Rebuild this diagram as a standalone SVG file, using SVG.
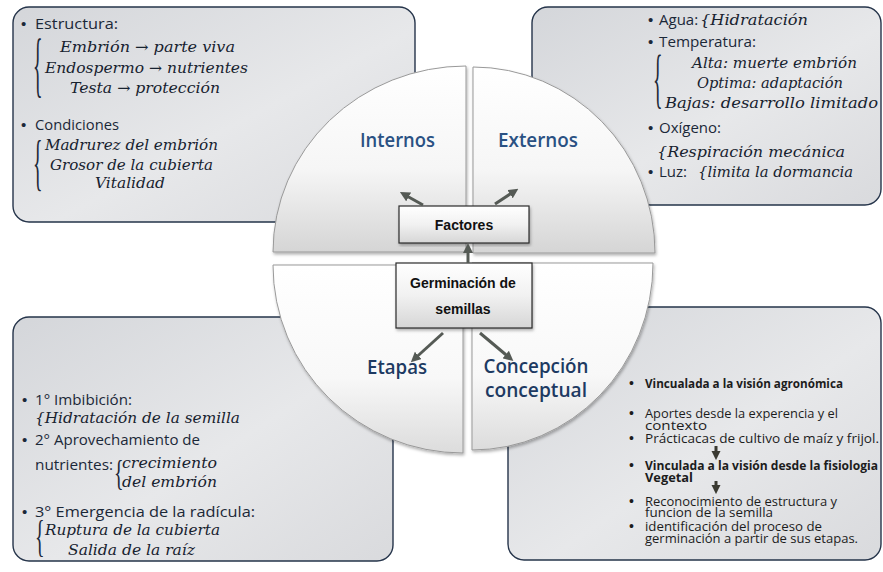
<svg xmlns="http://www.w3.org/2000/svg" width="883" height="572" viewBox="0 0 883 572">
<defs>
<linearGradient id="boxG" x1="0" y1="0" x2="1" y2="1">
<stop offset="0" stop-color="#d4d6da"/><stop offset="0.55" stop-color="#e7e8ea"/><stop offset="1" stop-color="#d9dadd"/>
</linearGradient>
<linearGradient id="qTop" x1="0" y1="0" x2="0" y2="1">
<stop offset="0" stop-color="#ffffff"/><stop offset="0.55" stop-color="#f6f6f6"/><stop offset="1" stop-color="#d5d5d5"/>
</linearGradient>
<linearGradient id="qBot" x1="0" y1="0" x2="0" y2="1">
<stop offset="0" stop-color="#ffffff"/><stop offset="0.6" stop-color="#f8f8f8"/><stop offset="1" stop-color="#dcdcdc"/>
</linearGradient>
<linearGradient id="nodeG" x1="0" y1="0" x2="0" y2="1">
<stop offset="0" stop-color="#ffffff"/><stop offset="0.5" stop-color="#f1f1f1"/><stop offset="1" stop-color="#d6d6d6"/>
</linearGradient>
<filter id="sh" x="-10%" y="-10%" width="120%" height="120%">
<feDropShadow dx="1" dy="2" stdDeviation="1.5" flood-color="#000" flood-opacity="0.3"/>
</filter>
<marker id="ah" viewBox="0 0 10 10" refX="3" refY="5" markerWidth="10" markerHeight="10" markerUnits="userSpaceOnUse" orient="auto">
<path d="M0,0 L10,5 L0,10 z" fill="#555a55"/>
</marker>
<marker id="dh" viewBox="0 0 10 10" refX="1" refY="5" markerWidth="9" markerHeight="11" markerUnits="userSpaceOnUse" orient="auto">
<path d="M0,0 L10,5 L0,10 z" fill="#3a3a32"/>
</marker>
</defs>
<style>
.box{fill:url(#boxG);stroke:#25344a;stroke-width:1.4}
.qt{fill:url(#qTop);stroke:#999;stroke-width:1;filter:url(#sh)}
.qb{fill:url(#qBot);stroke:#999;stroke-width:1;filter:url(#sh)}
.node{fill:url(#nodeG);stroke:#2b2b2b;stroke-width:1.2;filter:url(#sh)}
.sans{font-family:"Open Sans","Liberation Sans",sans-serif;font-size:15px;fill:#1b2838}
.bul{font-family:"Liberation Sans",sans-serif;font-size:15px;fill:#1b2838}
.math{font-family:"DejaVu Serif",serif;font-style:italic;font-size:15px;fill:#17222f}
.brace{font-family:"Liberation Serif",serif;font-size:20px;fill:#1b2838}
.lbl{font-family:"Open Sans","Liberation Sans",sans-serif;font-weight:600;font-size:20px;text-anchor:middle}
.nt{font-family:"Liberation Sans",sans-serif;font-weight:bold;font-size:14px;fill:#111;text-anchor:middle}
.br{font-family:"Open Sans","Liberation Sans",sans-serif;font-size:12px;fill:#1c1c1c}
.bb{font-family:"Liberation Sans",sans-serif;font-size:14px;fill:#1c1c1c}
.b{font-weight:bold}
.conn{stroke:#555a55;stroke-width:3;fill:none;marker-end:url(#ah)}
.dconn{stroke:#3a3a32;stroke-width:3;fill:none;marker-end:url(#dh)}
</style>

<g id="box-internos">
<rect class="box" x="13" y="7" width="402" height="215" rx="16"/>
<text class="bul" x="21" y="29">•</text><text class="sans" x="35" y="29" textLength="83" lengthAdjust="spacingAndGlyphs">Estructura:</text>
<text class="brace" transform="translate(33,88) scale(1,3.6)">{</text>
<text class="math" x="147.5" y="52" text-anchor="middle" textLength="175" lengthAdjust="spacingAndGlyphs">Embrión → parte viva</text>
<text class="math" x="146.5" y="73" text-anchor="middle" textLength="203" lengthAdjust="spacingAndGlyphs">Endospermo → nutrientes</text>
<text class="math" x="145" y="93" text-anchor="middle" textLength="150" lengthAdjust="spacingAndGlyphs">Testa → protección</text>
<text class="bul" x="21" y="130">•</text><text class="sans" x="35" y="130" textLength="84" lengthAdjust="spacingAndGlyphs">Condiciones</text>
<text class="brace" transform="translate(33,183) scale(1,3.1)">{</text>
<text class="math" x="131.5" y="150" text-anchor="middle" textLength="173" lengthAdjust="spacingAndGlyphs">Madrurez del embrión</text>
<text class="math" x="131.5" y="170" text-anchor="middle" textLength="163" lengthAdjust="spacingAndGlyphs">Grosor de la cubierta</text>
<text class="math" x="130" y="188" text-anchor="middle" textLength="70" lengthAdjust="spacingAndGlyphs">Vitalidad</text>
</g>

<g id="box-externos">
<rect class="box" x="532" y="7" width="349" height="198" rx="16"/>
<text class="bul" x="648" y="25">•</text><text class="sans" x="659" y="25">Agua:</text>
<text class="math" x="700" y="25" textLength="108" lengthAdjust="spacingAndGlyphs">{Hidratación</text>
<text class="bul" x="648" y="47">•</text><text class="sans" x="659" y="47" textLength="97" lengthAdjust="spacingAndGlyphs">Temperatura:</text>
<text class="brace" transform="translate(653,100) scale(1,3.3)">{</text>
<text class="math" x="774.5" y="68" text-anchor="middle" textLength="165" lengthAdjust="spacingAndGlyphs">Alta: muerte  embrión</text>
<text class="math" x="770" y="88" text-anchor="middle" textLength="146" lengthAdjust="spacingAndGlyphs">Optima: adaptación</text>
<text class="math" x="771.5" y="108" text-anchor="middle" textLength="213" lengthAdjust="spacingAndGlyphs">Bajas: desarrollo limitado</text>
<text class="bul" x="648" y="133">•</text><text class="sans" x="659" y="133">Oxígeno:</text>
<text class="math" x="657" y="157" textLength="188" lengthAdjust="spacingAndGlyphs">{Respiración mecánica</text>
<text class="bul" x="648" y="177">•</text><text class="sans" x="659" y="177">Luz:</text>
<text class="math" x="698" y="177" textLength="155" lengthAdjust="spacingAndGlyphs">{limita la dormancia</text>
</g>

<g id="box-etapas">
<rect class="box" x="13" y="317" width="380" height="244" rx="16"/>
<text class="bul" x="22" y="405">•</text><text class="sans" x="35" y="405" textLength="97" lengthAdjust="spacingAndGlyphs">1° Imbibición:</text>
<text class="math" x="35" y="423" textLength="205" lengthAdjust="spacingAndGlyphs">{Hidratación de la semilla</text>
<text class="bul" x="22" y="445">•</text><text class="sans" x="35" y="445" textLength="165" lengthAdjust="spacingAndGlyphs">2° Aprovechamiento de</text>
<text class="sans" x="35" y="470" textLength="78" lengthAdjust="spacingAndGlyphs">nutrientes:</text>
<text class="brace" transform="translate(114,485) scale(1,1.8)">{</text>
<text class="math" x="122" y="468" textLength="95" lengthAdjust="spacingAndGlyphs">crecimiento</text>
<text class="math" x="122" y="487" textLength="95" lengthAdjust="spacingAndGlyphs">del embrión</text>
<text class="bul" x="22" y="517">•</text><text class="sans" x="35" y="517" textLength="220" lengthAdjust="spacingAndGlyphs">3° Emergencia de la radícula:</text>
<text class="brace" transform="translate(35,551) scale(1,2.2)">{</text>
<text class="math" x="45" y="535" textLength="175" lengthAdjust="spacingAndGlyphs">Ruptura de la cubierta</text>
<text class="math" x="68" y="555" textLength="127" lengthAdjust="spacingAndGlyphs">Salida de la raíz</text>
</g>

<g id="box-concepcion">
<rect class="box" x="508" y="307" width="373" height="253" rx="16"/>
<text class="bb" x="629" y="388">•</text><text class="br b" x="645" y="388" textLength="198" lengthAdjust="spacingAndGlyphs">Vincualada a la visión agronómica</text>
<text class="bb" x="629" y="418">•</text><text class="br" x="645" y="418" textLength="193" lengthAdjust="spacingAndGlyphs">Aportes desde la experencia y el</text>
<text class="br" x="645" y="430" textLength="62" lengthAdjust="spacingAndGlyphs">contexto</text>
<text class="bb" x="629" y="443">•</text><text class="br" x="645" y="443" textLength="234" lengthAdjust="spacingAndGlyphs">Prácticacas de cultivo de maíz y frijol.</text>
<text class="bb" x="629" y="470">•</text><text class="br b" x="645" y="470" textLength="233" lengthAdjust="spacingAndGlyphs">Vinculada a la visión desde la fisiologia</text>
<text class="br b" x="645" y="482" textLength="48" lengthAdjust="spacingAndGlyphs">Vegetal</text>
<text class="bb" x="629" y="506">•</text><text class="br" x="645" y="506" textLength="192" lengthAdjust="spacingAndGlyphs">Reconocimiento de estructura y</text>
<text class="br" x="645" y="517" textLength="128" lengthAdjust="spacingAndGlyphs">funcion de la semilla</text>
<text class="bb" x="629" y="531">•</text><text class="br" x="645" y="531" textLength="177" lengthAdjust="spacingAndGlyphs">identificación del proceso de</text>
<text class="br" x="645" y="543" textLength="213" lengthAdjust="spacingAndGlyphs">germinación a partir de sus etapas.</text>
</g>

<g id="q-internos">
<path class="qt" d="M466,252 L273,252 A193,186 0 0 1 466,66 Z"/>
<text class="lbl" x="397.5" y="147" fill="#2a5183" textLength="75" lengthAdjust="spacingAndGlyphs">Internos</text>
</g>
<g id="q-externos">
<path class="qt" d="M473,253 L473,67 A182,186 0 0 1 655,253 Z"/>
<text class="lbl" x="538" y="147" fill="#2a5183" textLength="80" lengthAdjust="spacingAndGlyphs">Externos</text>
</g>
<g id="q-etapas">
<path class="qb" d="M463,265 L463,453 A190,188 0 0 1 273,265 Z"/>
<text class="lbl" x="397" y="374" fill="#1d3a62" textLength="60" lengthAdjust="spacingAndGlyphs">Etapas</text>
</g>
<g id="q-concepcion">
<path class="qb" d="M472,263 L653,263 A181,187 0 0 1 472,450 Z"/>
<text class="lbl" x="536" y="373" fill="#1d3a62" textLength="105" lengthAdjust="spacingAndGlyphs">Concepción</text>
<text class="lbl" x="536" y="397" fill="#1d3a62" textLength="102" lengthAdjust="spacingAndGlyphs">conceptual</text>
</g>

<g id="node-factores">
<rect class="node" x="399" y="206" width="130" height="37"/>
<text class="nt" x="464" y="230">Factores</text>
</g>
<g id="node-germinacion">
<rect class="node" x="396" y="263" width="136" height="65"/>
<text class="nt" x="463" y="288">Germinación de</text>
<text class="nt" x="463" y="314">semillas</text>
</g>

<g id="connectors">
<line class="conn" x1="468" y1="263" x2="468" y2="250"/>
<line class="conn" x1="423" y1="205" x2="406" y2="195.5"/>
<line class="conn" x1="495" y1="204" x2="512.5" y2="192.5"/>
<line class="conn" x1="443" y1="333" x2="416" y2="357.5"/>
<line class="conn" x1="480" y1="333" x2="508" y2="356.5"/>
<line class="dconn" x1="716" y1="446" x2="716" y2="452"/>
<line class="dconn" x1="716" y1="481" x2="716" y2="486"/>
</g>
</svg>
